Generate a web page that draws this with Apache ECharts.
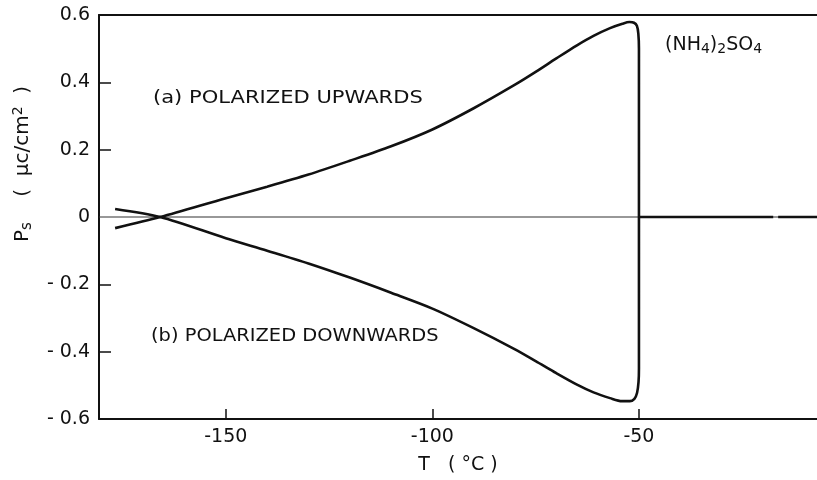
<!DOCTYPE html>
<html><head><meta charset="utf-8">
<script src="https://cdn.jsdelivr.net/npm/echarts@6/dist/echarts.min.js"></script>
<style>html,body{margin:0;padding:0;background:#fff}#c{width:817px;height:480px}</style>
</head><body><div id="c"></div>
<script>
// Temperature (°C) / spontaneous polarization (µC/cm²)
const upwardsT = [-176.8, -165.9, -150, -140, -130, -120, -110, -100, -90, -80, -75, -70, -65, -61, -57, -54, -52.3, -51.2, -50.5, -50.15, -50.0, -50.0];
const upwardsP = [-0.033, 0, 0.056, 0.09, 0.126, 0.167, 0.21, 0.26, 0.323, 0.393, 0.431, 0.471, 0.51, 0.538, 0.561, 0.574, 0.579, 0.577, 0.568, 0.545, 0.50, 0];
const downwardsT = [-176.8, -165.9, -150, -140, -130, -120, -110, -100, -90, -80, -75, -70, -65, -61, -57, -54.1, -52.2, -51.1, -50.45, -50.1, -50.0, -50.0];
const downwardsP = [0.024, 0, -0.063, -0.10, -0.138, -0.18, -0.225, -0.272, -0.33, -0.393, -0.428, -0.464, -0.498, -0.521, -0.538, -0.547, -0.547, -0.54, -0.522, -0.49, -0.45, 0];
const aboveTcT = [-50, -17.5, null, -16.3, -6.9];
const aboveTcP = [0, 0, null, 0, 0];
const xTicks = [-150, -100, -50];
const yTicks = [-0.6, -0.4, -0.2, 0, 0.2, 0.4, 0.6];
const yTickLabels = ['- 0.6', '- 0.4', '- 0.2', '0', '0.2', '0.4', '0.6'];
const xRange = [-180.7, -6.9];

const pairs = (a, b) => a.map((v, i) => v === null ? [null, null] : [v, b[i]]);
const ink = '#111';
const font = 'DejaVu Sans';

const chart = echarts.init(document.getElementById('c'), null, {renderer: 'canvas'});
chart.setOption({
  animation: false,
  backgroundColor: '#fff',
  grid: {left: 99, right: 0, top: 15, bottom: 59},
  xAxis: [{
    type: 'value', min: xRange[0], max: xRange[1], position: 'bottom',
    axisLine: {show: true, onZero: false, lineStyle: {color: ink, width: 2}},
    axisTick: {show: true, inside: true, length: 10, customValues: xTicks, lineStyle: {color: ink, width: 1.5}},
    axisLabel: {customValues: xTicks, color: ink, fontFamily: font, fontSize: 19, margin: 9},
    splitLine: {show: false},
    name: 'T   ( °C )', nameLocation: 'middle', nameGap: 37,
    nameTextStyle: {color: ink, fontFamily: font, fontSize: 19}
  }, {
    type: 'value', min: xRange[0], max: xRange[1], position: 'top',
    axisLine: {show: true, onZero: false, lineStyle: {color: ink, width: 2}},
    axisTick: {show: false}, axisLabel: {show: false}, splitLine: {show: false}
  }],
  yAxis: {
    type: 'value', min: -0.6, max: 0.6, interval: 0.2,
    axisLine: {show: true, onZero: false, lineStyle: {color: ink, width: 2}},
    axisTick: {show: true, inside: true, length: 12, customValues: [-0.4, -0.2, 0.2, 0.4], lineStyle: {color: ink, width: 1.5}},
    axisLabel: {
      customValues: yTicks, color: ink, fontFamily: font, fontSize: 19, margin: 9,
      formatter: v => yTickLabels[yTicks.findIndex(t => Math.abs(t - v) < 1e-6)]
    },
    splitLine: {show: false}
  },
  graphic: [
    {type: 'text', x: 23, y: 164, rotation: Math.PI / 2,
     style: {text: 'P{sub|s}    (  μc/cm{sup|2}  )', fill: ink, font: '20px "DejaVu Sans"', align: 'center', verticalAlign: 'middle',
       rich: {sub: {fontSize: 15, fontFamily: font, padding: [9, 0, 0, 0], fill: ink}, sup: {fontSize: 14, fontFamily: font, padding: [0, 0, 10, 0], fill: ink}}}},
    {type: 'text', x: 153, y: 98, scaleX: 1.17,
     style: {text: '(a) POLARIZED UPWARDS', fill: ink, font: '18px "DejaVu Sans"', align: 'left', verticalAlign: 'middle'}},
    {type: 'text', x: 151, y: 336, scaleX: 1.08,
     style: {text: '(b) POLARIZED DOWNWARDS', fill: ink, font: '18px "DejaVu Sans"', align: 'left', verticalAlign: 'middle'}},
    {type: 'text', x: 665, y: 45,
     style: {text: '(NH{sub|4}){sub|2}SO{sub|4}', fill: ink, font: '19px "DejaVu Sans"', align: 'left', verticalAlign: 'middle',
       rich: {sub: {fontSize: 14, fontFamily: font, padding: [8, 0, 0, 0], fill: ink}}}}
  ],
  series: [
    {type: 'line', data: [[xRange[0], 0], [xRange[1], 0]], showSymbol: false, silent: true,
     lineStyle: {color: '#333', width: 1.2}},
    {type: 'line', data: pairs(upwardsT, upwardsP), showSymbol: false, smooth: 0.3,
     lineStyle: {color: ink, width: 2.6}},
    {type: 'line', data: pairs(downwardsT, downwardsP), showSymbol: false, smooth: 0.3,
     lineStyle: {color: ink, width: 2.6}},
    {type: 'line', data: pairs(aboveTcT, aboveTcP), showSymbol: false, connectNulls: false,
     lineStyle: {color: ink, width: 2.6}}
  ]
});
</script></body></html>
